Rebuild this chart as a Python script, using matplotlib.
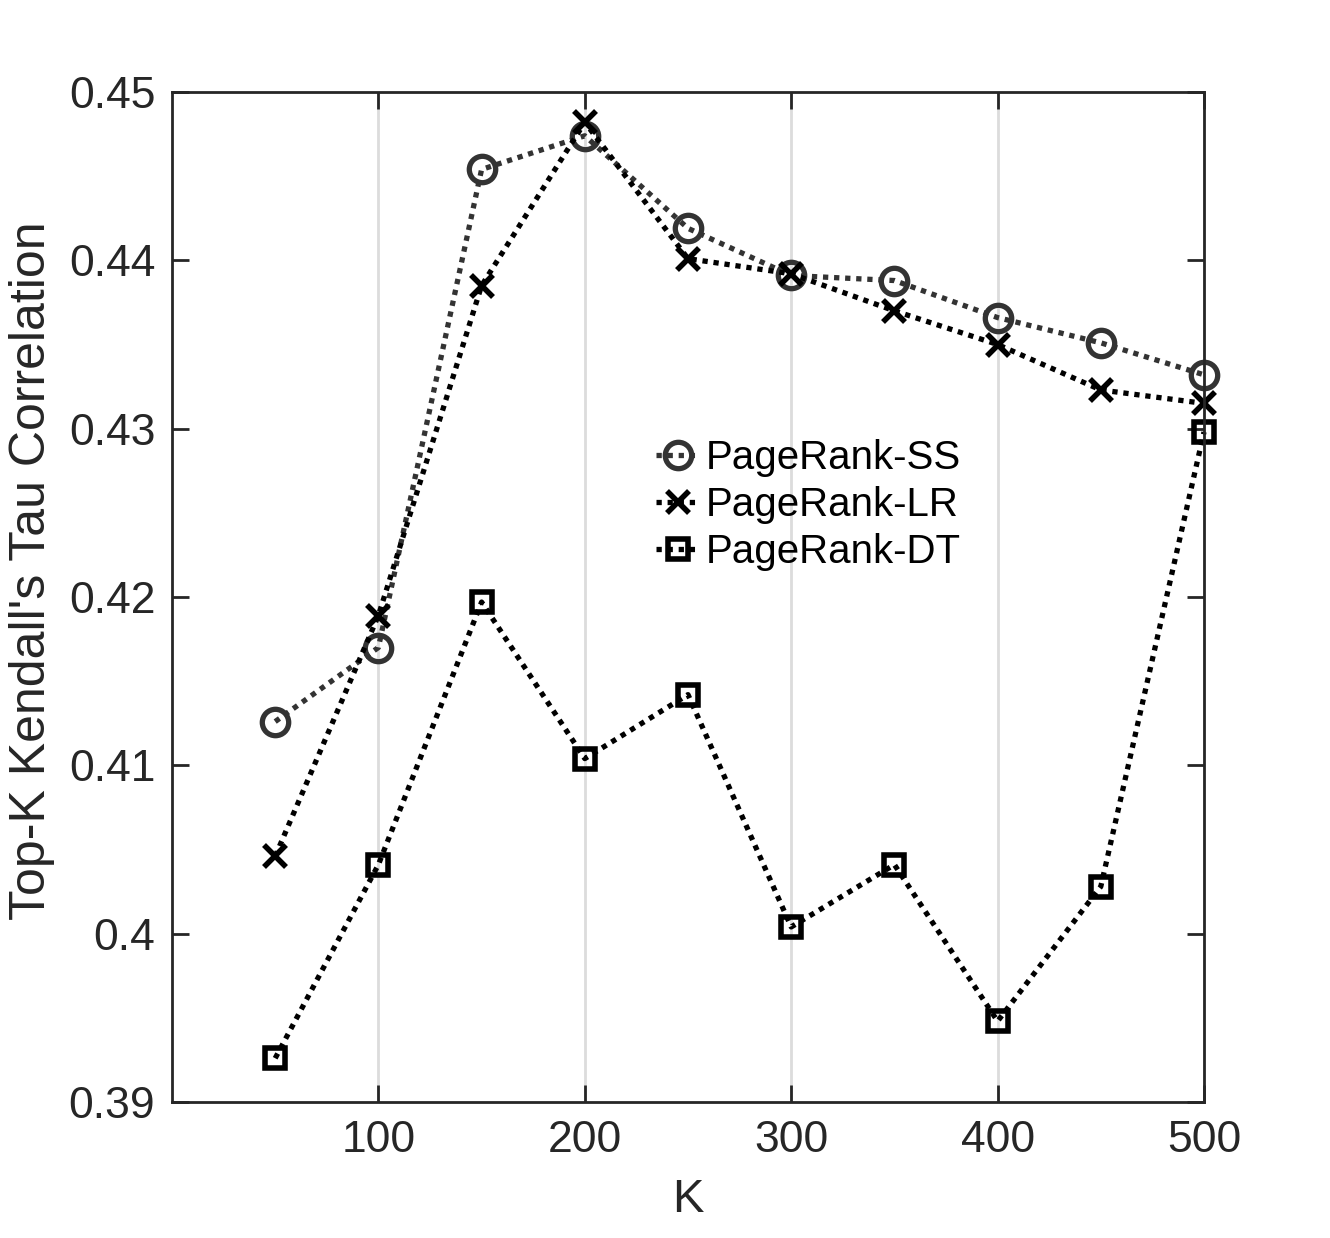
import matplotlib.pyplot as plt

plt.rcParams['font.family'] = ['Liberation Sans', 'DejaVu Sans']

K = [50, 100, 150, 200, 250, 300, 350, 400, 450, 500]
ss = [0.4126, 0.4170, 0.4454, 0.4474, 0.4419, 0.4391, 0.4388, 0.4366, 0.4351, 0.4332]
lr = [0.4046, 0.4189, 0.4385, 0.4482, 0.4401, 0.4392, 0.4370, 0.4350, 0.4323, 0.4315]
dt = [0.3926, 0.4041, 0.4197, 0.4104, 0.4142, 0.4004, 0.4041, 0.3948, 0.4028, 0.4298]

xticks = [100, 200, 300, 400, 500]
yticks = [0.39, 0.40, 0.41, 0.42, 0.43, 0.44, 0.45]
yticklabels = ['0.39', '0.4', '0.41', '0.42', '0.43', '0.44', '0.45']

txt = '#262626'
dots = (0, (1, 1.1))

fig = plt.figure(figsize=(13.3, 12.38), dpi=100)
ax = fig.add_axes([172 / 1330, 1 - 1102 / 1238, (1204 - 172) / 1330, (1102 - 92) / 1238])

ax.plot(K, ss, linestyle=dots, color='#333333', lw=3.8, marker='o', ms=19,
        mfc='none', mec='#333333', mew=3.8, label='PageRank-SS', clip_on=False)
ax.plot(K, lr, linestyle=dots, color='black', lw=3.8, marker='x', ms=16,
        mec='black', mew=4, label='PageRank-LR', clip_on=False)
ax.plot(K, dt, linestyle=dots, color='black', lw=3.8, marker='s', ms=15,
        mfc='none', mec='black', mew=4, label='PageRank-DT', clip_on=False)

ax.set_xlim(0, 500)
ax.set_ylim(0.39, 0.45)
ax.set_xticks(xticks)
ax.set_yticks(yticks)
ax.set_yticklabels(yticklabels)
ax.grid(axis='x', color='#dcdcdc', lw=2)
ax.set_axisbelow(True)

ax.tick_params(direction='in', length=12, width=2, top=True, right=True,
               labelsize=32, colors=txt, pad=13)
ax.tick_params(axis='y', pad=12)
for s in ax.spines.values():
    s.set_color(txt)
    s.set_linewidth(2)

ax.set_xlabel('K', fontsize=34, color=txt, labelpad=12)
ax.set_ylabel("Top-K Kendall's Tau Correlation", fontsize=36, color=txt)
ax.yaxis.set_label_coords(-0.113, 0.526)

leg = ax.legend(loc='upper left', bbox_to_anchor=(0.453, 0.672), frameon=False,
                fontsize=29, handlelength=1.1, handletextpad=0.15, labelspacing=0.22,
                borderaxespad=0)

fig.savefig('out.png', dpi=100)
